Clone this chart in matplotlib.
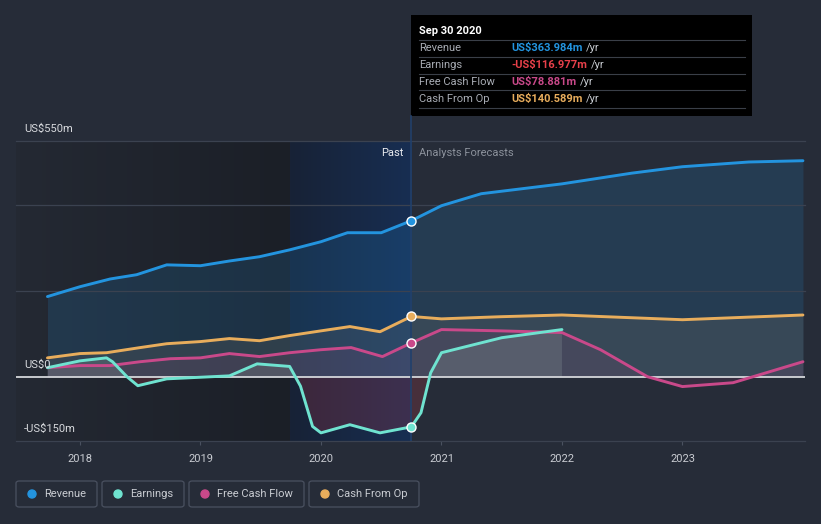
import matplotlib
matplotlib.use("Agg")
from matplotlib import pyplot as plt
from matplotlib import patches
import numpy as np

"""
Revenue / earnings / cash flow history and analyst forecasts
"""

plt.rcParams['font.family'] = ['Roboto', 'DejaVu Sans']

# Data (US$m), x as decimal years
rev_past_x = [2017.73, 2018.0, 2018.25, 2018.47, 2018.72, 2019.0, 2019.24, 2019.49, 2019.74,
              2020.0, 2020.22, 2020.5, 2020.75]
rev_past_y = [187, 210, 228, 238, 261, 259, 270, 280, 296, 315, 336, 336, 364]
rev_fc_x = [2020.75, 2021.0, 2021.33, 2022.0, 2022.58, 2023.0, 2023.55, 2024.0]
rev_fc_y = [364, 399, 427, 450, 475, 490, 501, 504]

earn_past_x = [2017.73, 2018.0, 2018.22, 2018.27, 2018.39, 2018.48, 2018.72, 2019.24, 2019.47,
               2019.74, 2019.83, 2019.93, 2020.0, 2020.24, 2020.49, 2020.75]
earn_past_y = [21, 37, 44, 35, 0, -21, -5, 2, 30, 24, -22, -116, -131, -112, -131, -117]
earn_fc_x = [2020.75, 2020.83, 2020.91, 2021.0, 2021.5, 2022.0]
earn_fc_y = [-117, -84, 9, 56, 91, 110]

fcf_past_x = [2017.73, 2018.0, 2018.25, 2018.5, 2018.75, 2019.0, 2019.24, 2019.49, 2019.74,
              2020.0, 2020.25, 2020.51, 2020.75]
fcf_past_y = [21, 26, 26, 35, 42, 44, 54, 47, 56, 63, 68, 47, 78.881]
fcf_fc_x = [2020.75, 2021.0, 2021.49, 2022.0, 2022.32, 2022.71, 2023.0, 2023.42, 2024.0]
fcf_fc_y = [78.881, 110, 107, 103, 63, 0, -23, -14, 35]

cfo_past_x = [2017.73, 2018.0, 2018.22, 2018.5, 2018.72, 2019.0, 2019.24, 2019.49, 2019.74,
              2020.0, 2020.24, 2020.49, 2020.75]
cfo_past_y = [44, 54, 56, 68, 77, 82, 89, 84, 96, 107, 117, 105, 140.589]
cfo_fc_x = [2020.75, 2021.0, 2021.49, 2022.0, 2023.0, 2024.0]
cfo_fc_y = [140.589, 135, 140, 144, 133, 144]

years = [2018, 2019, 2020, 2021, 2022, 2023]

C_REV = '#2394df'
C_EARN = '#6fe3d0'
C_FCF = '#c9498a'
C_CFO = '#e8ad5c'
BG = '#262c38'

W, H = 821, 524


def fx(x):
    return x / W


def fy(y):
    return 1 - y / H


def main():
    fig = plt.figure(figsize=(W / 100, H / 100), dpi=100, facecolor=BG)
    ax = fig.add_axes([fx(16), fy(441), (805 - 16) / W, 300 / H])
    ax.set_facecolor(BG)
    x0, x1 = 2017.469, 2024.017
    ax.set_xlim(x0, x1)
    ax.set_ylim(-150, 550)

    # background shading: dark past, blue last-year band
    def grad(c1, c2, n=64):
        c1 = np.array(matplotlib.colors.to_rgb(c1))
        c2 = np.array(matplotlib.colors.to_rgb(c2))
        t = np.linspace(0, 1, n)[:, None]
        return (c1 + (c2 - c1) * t)[None, :, :]

    ax.imshow(grad('#242933', '#1b1f27'), extent=[x0, 2019.74, -150, 550],
              aspect='auto', zorder=0)
    ax.imshow(grad('#182236', '#172e52'), extent=[2019.74, 2020.75, -150, 550],
              aspect='auto', zorder=0)
    ax.set_xlim(x0, x1)
    ax.set_ylim(-150, 550)

    # fills
    rx = rev_past_x + rev_fc_x[1:]
    ry = rev_past_y + rev_fc_y[1:]
    ax.fill_between(rx, ry, 0, color=C_REV, alpha=0.16, lw=0, zorder=1)
    cx = cfo_past_x + cfo_fc_x[1:]
    cy = cfo_past_y + cfo_fc_y[1:]
    ax.fill_between(cx, cy, 0, color='#8a8070', alpha=0.18, lw=0, zorder=1)
    fx_ = fcf_past_x + fcf_fc_x[1:]
    fy_ = fcf_past_y + fcf_fc_y[1:]
    ax.fill_between(fx_, fy_, 0, color=C_FCF, alpha=0.1, lw=0, zorder=1)
    ex = earn_past_x + earn_fc_x[1:]
    ey = np.array(earn_past_y + earn_fc_y[1:])
    ax.fill_between(ex, ey, 0, where=ey >= 0, interpolate=True, color='#9aa8a8',
                    alpha=0.22, lw=0, zorder=1)
    ax.fill_between(ex, ey, 0, where=ey <= 0, interpolate=True, color='#c03a4a',
                    alpha=0.22, lw=0, zorder=1)

    # grid
    for v in [550, 400, 200, -150]:
        ax.axhline(v, color='#3b4250', lw=0.9, zorder=2, clip_on=False)
    ax.axhline(0, color='#d4d6da', lw=1.3, zorder=2)

    # lines
    for xs, ys, c in [(rx, ry, C_REV), (cx, cy, C_CFO), (fx_, fy_, C_FCF), (ex, ey, C_EARN)]:
        ax.plot(xs, ys, color=c, lw=2.1, zorder=4, solid_capstyle='round')
    for v, c in [(364, C_REV), (140.589, C_CFO), (78.881, C_FCF), (-117, C_EARN)]:
        ax.plot(2020.75, v, 'o', ms=6.5, color=c, mec='white', mew=1, zorder=5)

    # past divider
    ax.plot([2020.75, 2020.75], [-150, 550], color='#22406a', lw=1.2, zorder=3)
    fig.add_artist(plt.Line2D([fx(411), fx(411)], [fy(141), fy(116)], color='#22406a', lw=1.2))

    ax.set_xticks(years)
    ax.set_xticklabels([str(y) for y in years])
    ax.tick_params(axis='x', colors='#4a5160', labelcolor='#c9ccd2', labelsize=8,
                   length=3, pad=6)
    ax.set_yticks([])
    for s in ax.spines.values():
        s.set_visible(False)

    # y labels
    for txt, y in [('US$550m', 129), ('US$0', 365), ('-US$150m', 429)]:
        fig.text(fx(24), fy(y), txt, color='#d8dade', fontsize=8, va='center', ha='left')

    fig.text(fx(403), fy(153), 'Past', color='#e8eaee', fontsize=8, va='center', ha='right')
    fig.text(fx(419), fy(153), 'Analysts Forecasts', color='#8c929c', fontsize=8,
             va='center', ha='left')

    # tooltip
    fig.add_artist(patches.Rectangle((fx(411), fy(116)), (752 - 411) / W, 101 / H,
                                     transform=fig.transFigure, facecolor='black',
                                     edgecolor='none'))
    fig.text(fx(419), fy(31), 'Sep 30 2020', color='white', fontsize=8, weight='bold',
             va='center')
    rows = [('Revenue', 'US$363.984m', C_REV),
            ('Earnings', '-US$116.977m', '#e8404a'),
            ('Free Cash Flow', 'US$78.881m', C_FCF),
            ('Cash From Op', 'US$140.589m', C_CFO)]
    for i, (lab, val, c) in enumerate(rows):
        y = 48 + 17 * i
        fig.add_artist(plt.Line2D([fx(419), fx(745)], [fy(y - 8.5), fy(y - 8.5)],
                                  color='#3a3f48', lw=0.8))
        fig.text(fx(419), fy(y), lab, color='#a8acb4', fontsize=8, va='center')
        t = fig.text(fx(511), fy(y), val, color=c, fontsize=8, weight='bold', va='center')
        fig.canvas.draw()
        bb = t.get_window_extent()
        fig.text(bb.x1 / W + 4 / W, fy(y), '/yr', color='#c8ccd2', fontsize=8, va='center')
    fig.add_artist(plt.Line2D([fx(419), fx(745)], [fy(108), fy(108)], color='#3a3f48', lw=0.8))

    # legend
    items = [('Revenue', C_REV, 16, 97), ('Earnings', C_EARN, 102, 184),
             ('Free Cash Flow', C_FCF, 189, 304), ('Cash From Op', C_CFO, 309, 419)]
    for lab, c, l, r in items:
        fig.add_artist(patches.FancyBboxPatch((fx(l), fy(507)), (r - l) / W, 26 / H,
                                              boxstyle='round,pad=0,rounding_size=0.004',
                                              transform=fig.transFigure, facecolor='none',
                                              edgecolor='#4a5160', lw=0.9))
        fig.add_artist(patches.Ellipse((fx(l + 16), fy(494)), 8 / W, 8 / H,
                                       transform=fig.transFigure, color=c))
        fig.text(fx(l + 28), fy(494), lab, color='#c9ccd2', fontsize=8, va='center')

    fig.savefig('out.png', dpi=100, facecolor=BG)


if __name__ == '__main__':
    main()
